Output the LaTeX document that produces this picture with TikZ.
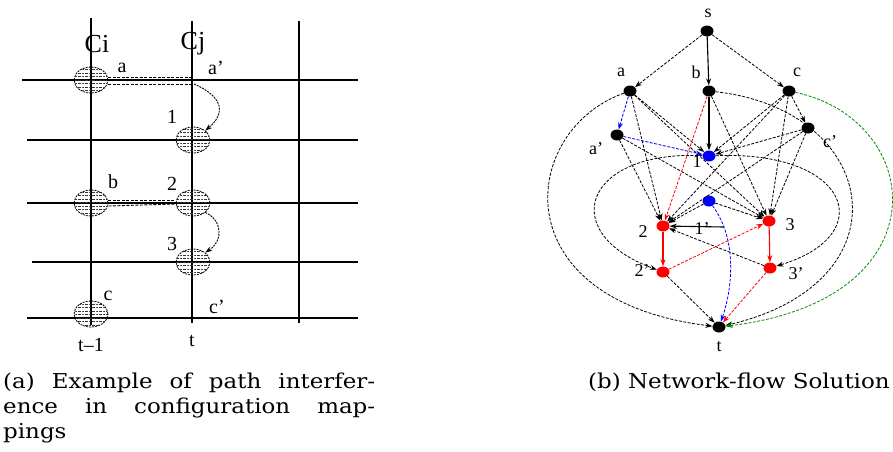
\documentclass[tikz,border=0pt]{standalone}
\usepackage{fontspec}
\setmainfont{Liberation Serif}
\newfontfamily\capfont[FakeStretch=1.12]{DejaVu Serif}
\usetikzlibrary{arrows.meta,patterns.meta,shapes.geometric}
\tikzset{
  gridline/.style={line width=1.4pt},
  hcirc/.style={ellipse, draw, dash pattern=on 2pt off 1pt, line width=0.8pt,
    minimum width=34pt, minimum height=26pt, inner sep=0pt,
    pattern={Lines[angle=0,distance=3.5pt,line width=0.8pt]}, pattern color=black!80},
  biglab/.style={font=\fontsize{26}{26}\selectfont, inner sep=0pt},
  lab/.style={font=\fontsize{20}{20}\selectfont, inner sep=0pt},
  glab/.style={font=\fontsize{18}{18}\selectfont, inner sep=0pt},
  capt/.style={font=\capfont\fontsize{20.5}{25}\selectfont, inner sep=0pt},
  dd/.style={dash pattern=on 3pt off 1.5pt, line width=0.9pt},
  ddarr/.style={dash pattern=on 2pt off 1pt, line width=0.9pt, -{Stealth[length=7pt,width=5pt]}},
  gn/.style={ellipse, fill=black, minimum width=13pt, minimum height=11pt, inner sep=0pt},
  rn/.style={gn, fill=red},
  bn/.style={gn, fill=blue},
  ed/.style={dash pattern=on 3pt off 1.5pt, line width=0.8pt, -{Stealth[length=7pt,width=5pt]}},
  sed/.style={line width=1.1pt, -{Stealth[length=7pt,width=5pt]}},
  red ed/.style={ed, red},
  blue ed/.style={ed, blue},
  green ed/.style={ed, green!55!black},
  red sed/.style={sed, red},
}
\begin{document}
\begin{tikzpicture}[x=1pt,y=-1pt]
\useasboundingbox (0,0) rectangle (893,451);
% ---------- (a) grid ----------
\draw[gridline] (91,18) -- (91,325);
\draw[gridline] (192,21) -- (192,323);
\draw[gridline] (299,21) -- (299,323);
\draw[gridline] (22,80) -- (358,80);
\draw[gridline] (27,140) -- (358,140);
\draw[gridline] (27,203) -- (358,203);
\draw[gridline] (32,262) -- (358,262);
\draw[gridline] (27,318) -- (358,318);
\node[hcirc] (ca) at (91,80) {};
\node[hcirc] (c1) at (193,140) {};
\node[hcirc] (cb) at (91,203) {};
\node[hcirc] (c2) at (193,203) {};
\node[hcirc] (c3) at (193,262) {};
\node[hcirc] (cc) at (91,314) {};
\coordinate (cap) at (192,80);
\draw[dd] ([yshift=3pt]ca.east) -- ([yshift=3pt]cap);
\draw[dd] ([yshift=-4pt]ca.east) -- ([yshift=-4pt]cap);
\draw[ddarr] ([xshift=2pt,yshift=-4pt]cap) .. controls (226,98) and (224,115) .. (c1.north east);
\draw[dd] ([yshift=3pt]cb.east) -- ([yshift=3pt]c2.west);
\draw[dd] ([yshift=-3pt]cb.east) -- ([yshift=-1pt]c2.west);
\draw[ddarr] (c2.south east) .. controls (222,220) and (224,240) .. (c3.north east);
\node[biglab] (lci) at (97,44) {Ci};
\node[biglab] (lcj) at (193,44) {Cj};
\node[lab] (la) at (122,68) {a};
\node[lab] (lap) at (216,68) {a’};
\node[lab] (l1) at (172,117) {1};
\node[lab] (lb) at (113,182) {b};
\node[lab] (l2) at (172,184) {2};
\node[lab] (l3) at (172,244) {3};
\node[lab] (lc) at (108,296) {c};
\node[lab] (lcp) at (217,307) {c’};
\node[lab] (ltm) at (91,345) {t–1};
\node[lab] (lt) at (192,341) {t};
% ---------- (b) network ----------
\node[gn] (s) at (707,31) {};
\node[gn] (a) at (630,91) {};
\node[gn] (b) at (709,91) {};
\node[gn] (c) at (789,91) {};
\node[gn] (ap) at (617,135) {};
\node[gn] (cp) at (808,128) {};
\node[bn] (n1) at (709,156) {};
\node[bn] (n1p) at (709,201) {};
\node[rn] (n2) at (663,226) {};
\node[rn] (n3) at (769,221) {};
\node[rn] (n2p) at (663,272) {};
\node[rn] (n3p) at (770,268) {};
\node[gn] (t) at (719,327) {};
\node[glab] at (708,13) {s};
\node[glab] at (621,72) {a};
\node[glab] at (696,72) {b};
\node[glab] at (797,72) {c};
\node[glab] at (596,149) {a’};
\node[glab] at (830,142) {c’};
\node[glab] at (697,162) {1};
\node[glab] at (702,229) {1’};
\node[glab] at (643,232) {2};
\node[glab] at (790,225) {3};
\node[glab] at (642,271) {2’};
\node[glab] at (796,274) {3’};
\node[glab] at (719,347) {t};
% edges from s
\draw[ed] (s) -- (a);
\draw[sed] (s) -- (b);
\draw[ed] (s) -- (c);
% black dashed fan
\draw[ed] (a) -- (n1);
\draw[ed] (a) -- (n2);
\draw[ed] (a) -- (n3);
\draw[ed] (ap) -- (n2);
\draw[ed] (ap) -- (n3);
\draw[ed] (b) -- (n3);
\draw[ed] (c) -- (cp);
\draw[ed] (c) -- (n1);
\draw[ed] (c) -- (n2);
\draw[ed] (c) -- (n3);
\draw[ed] (cp) -- (n1);
\draw[ed] (cp) -- (n2);
\draw[ed] (cp) -- (n3);
\draw[ed] (n1p) -- (n2);
\draw[ed] (n1p) -- (n3);
\draw[ed] (n2p) -- (t);
\draw[ed] (n3p) -- (n2);
\coordinate (x1) at (724,227);
\draw[sed] (x1) -- (n2);
% solid / coloured paths
\draw[sed] (b) -- (n1);
\draw[blue ed] (a) -- (ap);
\draw[blue ed] (ap) -- (n1);
\draw[blue ed] (n1p) .. controls (738,240) and (732,290) .. (t);
\draw[red ed] (b) -- (n2);
\draw[red sed] (n2) -- (n2p);
\draw[red ed] (n2p) -- (n3);
\draw[red sed] (n3) -- (n3p);
\draw[red ed] (n3p) -- (t);
% curved edges
\draw[ed] (a) .. controls (520,130) and (500,300) .. (t);
\draw[ed] (n1) .. controls (585,150) and (555,232) .. (n2p);
\draw[ed] (n1) .. controls (850,150) and (880,235) .. (n3p);
\draw[ed] (b) .. controls (880,110) and (910,282) .. (t);
\draw[green ed] (c) .. controls (925,120) and (945,300) .. (t);
% ---------- captions ----------
\node[capt, anchor=north west, text width=372pt, align=justify] (capa) at (3,373)
  {(a) Example of path interfer-\linebreak ence in configuration map-\linebreak pings};
\node[capt, anchor=north west] (capb) at (588,373) {(b) Network-flow Solution};
\end{tikzpicture}
\end{document}
